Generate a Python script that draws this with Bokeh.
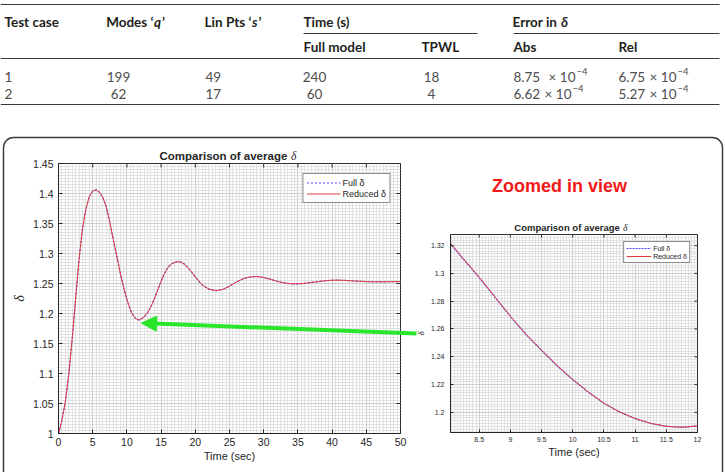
import numpy as np
from bokeh.plotting import figure
from bokeh.layouts import column, row
from bokeh.models import (Range1d, LinearAxis, FixedTicker, Grid, BoxAnnotation, Arrow,
                          NormalHead, Label, Legend, LegendItem)
from bokeh.embed import file_html
from bokeh.resources import INLINE

# ---------------- table contents ----------------
test_case = ["1", "2"]
modes_q = [199, 62]
lin_pts = [49, 17]
time_full = [240, 60]
time_tpwl = [18, 4]
err_abs = [8.75e-4, 6.62e-4]
err_rel = [6.75e-4, 5.27e-4]

# ---------------- average delta over time ----------------
t_sec = [0, 0.5, 1, 1.5, 2, 2.5, 3, 3.5, 4, 4.5, 5, 5.5, 6, 6.5, 7, 7.5, 8,
         8.25, 8.5, 8.75, 9, 9.25, 9.5, 9.75, 10, 10.25, 10.5, 10.75, 11, 11.25, 11.5, 11.75, 12,
         12.5, 13, 13.5, 14, 14.5, 15, 15.5, 16, 16.5, 17, 17.5, 18, 18.5, 19, 19.5, 20,
         21, 22, 23, 24, 25, 26, 27, 28, 29, 30, 31, 32, 33, 34, 35, 36, 37, 38, 39, 40,
         41, 42, 43, 44, 45, 46, 47, 48, 49, 50]
full_delta = [1.000, 1.022, 1.052, 1.098, 1.157, 1.224, 1.290, 1.341, 1.374, 1.395, 1.404, 1.406,
              1.402, 1.393, 1.377, 1.352, 1.3235,
              1.310, 1.297, 1.283, 1.269, 1.256, 1.2445, 1.2335, 1.2235, 1.2145, 1.2065, 1.2002,
              1.1955, 1.1920, 1.1899, 1.1892, 1.1902,
              1.1940, 1.2010, 1.2110, 1.2240, 1.2390, 1.2540, 1.2670, 1.2770, 1.2825, 1.2855,
              1.2865, 1.2852, 1.2815, 1.2755, 1.2685, 1.2610,
              1.2475, 1.2405, 1.2380, 1.2400, 1.2455, 1.2525, 1.2580, 1.2610, 1.2617, 1.2600,
              1.2570, 1.2535, 1.2508, 1.2495, 1.2494, 1.2503, 1.2518, 1.2533, 1.2547, 1.2555,
              1.2556, 1.2551, 1.2544, 1.2537, 1.2531, 1.2528, 1.2527, 1.2529, 1.2531, 1.2533]
reduced_delta = [1.000, 1.022, 1.053, 1.098, 1.158, 1.224, 1.290, 1.341, 1.374, 1.395, 1.404, 1.406,
                 1.402, 1.393, 1.377, 1.352, 1.3238,
                 1.3103, 1.2973, 1.2833, 1.2692, 1.2562, 1.2447, 1.2337, 1.2236, 1.2146, 1.2066, 1.2003,
                 1.1956, 1.1921, 1.1900, 1.1893, 1.1903,
                 1.1941, 1.2011, 1.2111, 1.2241, 1.2390, 1.2540, 1.2669, 1.2769, 1.2824, 1.2854,
                 1.2864, 1.2851, 1.2814, 1.2755, 1.2685, 1.2611,
                 1.2476, 1.2406, 1.2381, 1.2401, 1.2455, 1.2524, 1.2579, 1.2609, 1.2616, 1.2600,
                 1.2570, 1.2536, 1.2509, 1.2496, 1.2494, 1.2503, 1.2518, 1.2532, 1.2546, 1.2554,
                 1.2555, 1.2551, 1.2544, 1.2537, 1.2532, 1.2528, 1.2528, 1.2529, 1.2531, 1.2533]

# tick labels
main_x_labels = ["0", "5", "10", "15", "20", "25", "30", "35", "40", "45", "50"]
main_y_labels = ["1", "1.05", "1.1", "1.15", "1.2", "1.25", "1.3", "1.35", "1.4", "1.45"]
zoom_x_labels = ["8.5", "9", "9.5", "10", "10.5", "11", "11.5", "12"]
zoom_y_labels = ["1.2", "1.22", "1.24", "1.26", "1.28", "1.3", "1.32"]

# ---------------- page geometry ----------------
W, H = 725, 472
TOP_H = 130                 # height taken by the table above the plots
LEFT_W = 412
PANEL_H = H - TOP_H
RIGHT_W = W - LEFT_W

# plot frames in page pixels: (x0, x1, y_top, y_bottom)
L_FR = (58, 400, 163, 433)
R_FR = (446, 697, 234, 432)
L_XR, L_YR = (0, 50), (1.0, 1.45)
R_XR, R_YR = (8.04, 12.0), (1.1855, 1.328)

AX = "#262626"
MFONT = "Liberation Sans"
GREEN = "#2ae62a"
BOX = "#3c3c3c"
GRID_MAJOR = "#c9c9c9"
GRID_MINOR = "#dcdcdc"


def panel(fr, xr, yr, x_off, width):
    x0, x1, yt, yb = fr
    p = figure(width=width, height=PANEL_H, x_range=Range1d(*xr), y_range=Range1d(*yr),
               x_axis_type=None, y_axis_type=None, output_backend="svg", toolbar_location=None,
               min_border_left=x0 - x_off, min_border_right=x_off + width - x1,
               min_border_top=yt - TOP_H, min_border_bottom=H - yb)
    try:
        p.frame_align = False
    except AttributeError:
        pass
    p.outline_line_color = AX
    p.outline_line_width = 1
    p.background_fill_color = "white"
    p.border_fill_color = "white"
    return p


def matlab_axes(p, fr, xr, yr, xlabels, ylabels, xminor, yminor, tick_px, xlab_px, ylab_px,
                tick_len, x_standoff, y_standoff, xlab_standoff, ylab_standoff):
    xt = [float(s) for s in xlabels]
    yt = [float(s) for s in ylabels]
    xtick = FixedTicker(ticks=xt, minor_ticks=xminor)
    ytick = FixedTicker(ticks=yt, minor_ticks=yminor)

    def base(ax):
        ax.major_tick_in = tick_len
        ax.major_tick_out = 0
        ax.minor_tick_in = 0
        ax.minor_tick_out = 0
        ax.axis_line_color = AX
        ax.axis_line_width = 1
        ax.major_tick_line_color = AX
        ax.major_label_text_font = MFONT
        ax.major_label_text_color = AX
        ax.major_label_text_font_size = f"{tick_px}px"

    bx = LinearAxis(ticker=xtick, major_label_overrides={v: s for v, s in zip(xt, xlabels)},
                    axis_label="Time (sec)")
    base(bx)
    bx.major_label_standoff = x_standoff
    bx.axis_label_text_font = MFONT
    bx.axis_label_text_font_style = "normal"
    bx.axis_label_text_font_size = f"{xlab_px}px"
    bx.axis_label_text_color = AX
    bx.axis_label_standoff = xlab_standoff
    p.add_layout(bx, "below")

    lyx = LinearAxis(ticker=ytick, major_label_overrides={v: s for v, s in zip(yt, ylabels)},
                     axis_label="δ")
    base(lyx)
    lyx.major_label_standoff = y_standoff
    lyx.axis_label_text_font = "Liberation Serif"
    lyx.axis_label_text_font_style = "italic"
    lyx.axis_label_text_font_size = f"{ylab_px}px"
    lyx.axis_label_text_color = AX
    lyx.axis_label_standoff = ylab_standoff
    p.add_layout(lyx, "left")

    # inward box ticks along the top and right edges
    dx = (xr[1] - xr[0]) / (fr[1] - fr[0]) * tick_len
    dy = (yr[1] - yr[0]) / (fr[3] - fr[2]) * tick_len
    p.segment(x0=xt, y0=[yr[1]] * len(xt), x1=xt, y1=[yr[1] - dy] * len(xt),
              line_color=AX, line_width=1)
    p.segment(x0=[xr[1]] * len(yt), y0=yt, x1=[xr[1] - dx] * len(yt), y1=yt,
              line_color=AX, line_width=1)

    for dim, tk in ((0, xtick), (1, ytick)):
        p.add_layout(Grid(dimension=dim, ticker=tk, grid_line_color=GRID_MAJOR, grid_line_width=0.8,
                          minor_grid_line_color=GRID_MINOR, minor_grid_line_width=0.8))


def curves(p, dash):
    r_full = p.line(t_sec, full_delta, line_color="#4b4bff", line_width=1.2, line_dash=dash)
    r_red = p.line(t_sec, reduced_delta, line_color="#e23b3b", line_width=1)
    return r_full, r_red


def legend(p, r_full, r_red, font_px, glyph_w, row_h, pad, margin):
    lg = Legend(items=[LegendItem(label="Full δ", renderers=[r_full]),
                       LegendItem(label="Reduced δ", renderers=[r_red])],
                location="top_right", margin=margin, padding=pad, spacing=0,
                glyph_width=glyph_w, glyph_height=row_h, label_height=row_h, label_standoff=2,
                label_text_font=MFONT, label_text_font_size=f"{font_px}px", label_text_color=AX,
                border_line_color="#1a1a1a", border_line_width=0.8,
                background_fill_color="white", background_fill_alpha=1.0)
    p.add_layout(lg)


# ---------------- main response panel ----------------
left = panel(L_FR, L_XR, L_YR, 0, LEFT_W)
matlab_axes(left, L_FR, L_XR, L_YR, main_x_labels, main_y_labels,
            list(np.round(np.arange(0, 50.001, 0.5), 3)),
            list(np.round(np.arange(1.0, 1.4501, 0.005), 4)),
            tick_px=10.5, xlab_px=11, ylab_px=14, tick_len=4,
            x_standoff=4, y_standoff=5, xlab_standoff=1, ylab_standoff=3)
lf, lr = curves(left, "2 2")
legend(left, lf, lr, 9, 34, 11, 3, 10)

# ---------------- zoomed panel ----------------
right = panel(R_FR, R_XR, R_YR, LEFT_W, RIGHT_W)
matlab_axes(right, R_FR, R_XR, R_YR, zoom_x_labels, zoom_y_labels,
            list(np.round(np.arange(8.0, 12.001, 0.05), 3)),
            list(np.round(np.arange(1.18, 1.3301, 0.002), 4)),
            tick_px=7, xlab_px=11, ylab_px=9, tick_len=3,
            x_standoff=4, y_standoff=6, xlab_standoff=1, ylab_standoff=2)
rf, rr = curves(right, "2 1")
legend(right, rf, rr, 7, 25, 8, 2, 7)

# ---------------- page overlay: table, titles, frame box, arrow ----------------
ov = figure(width=W, height=H, x_range=Range1d(0, W), y_range=Range1d(H, 0),
            x_axis_type=None, y_axis_type=None, output_backend="svg", toolbar_location=None,
            min_border=0, outline_line_color=None, margin=(-H, 0, 0, 0))
ov.background_fill_alpha = 0
ov.border_fill_alpha = 0
ov.grid.visible = False


def label(x, y, text, font, size, color, style="normal", align="left", baseline="middle"):
    ov.add_layout(Label(x=x, y=y, text=text, text_align=align, text_baseline=baseline,
                        text_font=font, text_font_style=style, text_font_size=size,
                        text_color=color))


# plot titles (bold text followed by an italic delta)
for right_px, y_px, size in ((290, 155, "11.5px"), (622, 227, "9.5px")):
    label(right_px, y_px, "Comparison of average ", MFONT, size, AX, "bold", "right")
    label(right_px + 0.5, y_px, "δ", "Liberation Serif", size, AX, "italic")

label(559, 185, "Zoomed in view", MFONT, "18px", "#f01a1a", "bold", "center")

box = BoxAnnotation(left=3, right=722, top=137, bottom=H + 40, fill_color=None,
                    line_color=BOX, line_alpha=1.0, line_width=1.5)
try:
    box.border_radius = 10
except AttributeError:
    pass
ov.add_layout(box)

ov.add_layout(Arrow(x_start=416, y_start=333, x_end=141, y_end=322.6,
                    line_color=GREEN, line_width=4,
                    end=NormalHead(size=15, fill_color=GREEN, line_color=GREEN, line_width=1)))

# table
TFONT = "Lato"
HEAD_C = "#231f20"
BODY_C = "#4d4d4d"
HEAD_PX = "13.5px"
BODY_PX = "13.5px"
SUP_PX = "9.5px"
col_x = [4, 107, 205, 303, 421, 513, 618]
RULE_X1 = 719
HDR1_Y, HDR2_Y = 21, 46
ROW_Y = [76, 93]

rule_x0 = [0, col_x[3], col_x[5], 0, 0]
rule_x1 = [RULE_X1, 477, RULE_X1, RULE_X1, RULE_X1]
rule_y = [4, 33, 33, 58, 104]
ov.segment(x0=rule_x0, y0=rule_y, x1=rule_x1, y1=rule_y, line_color="#3a3a3a", line_width=1)


def head(x, y, text, style="bold", align="left"):
    label(x, y, text, TFONT, HEAD_PX, HEAD_C, style, align)


def head_italic(anchor, y, prefix, ital, suffix, ital_w):
    # prefix ends at the anchor; the italic letter starts right after it
    head(anchor, y, prefix, align="right")
    head(anchor + 0.5, y, ital, style="bold italic")
    if suffix:
        head(anchor + 0.5 + ital_w, y, suffix)


head(col_x[0], HDR1_Y, "Test case")
head_italic(col_x[1] + 46, HDR1_Y, "Modes ‘", "q", "’", 8)
head_italic(col_x[2] + 46, HDR1_Y, "Lin Pts ‘", "s", "’", 6.5)
head(col_x[3], HDR1_Y, "Time (s)")
head_italic(col_x[5] + 47, HDR1_Y, "Error in ", "δ", "", 8)
for x, txt in zip(col_x[3:], ["Full model", "TPWL", "Abs", "Rel"]):
    head(x, HDR2_Y, txt)


def body(x, y, text, align="left"):
    label(x, y, text, TFONT, BODY_PX, BODY_C, "normal", align)


def sci(x_left, y, v, base_w):
    # mantissa from the column edge, "× 10" ending at the anchor, exponent raised after it
    exp = int(np.floor(np.log10(abs(v))))
    mant = v / 10.0 ** exp
    anchor = x_left + base_w
    body(x_left, y, f"{mant:.2f}")
    body(anchor, y, "× 10", align="right")
    label(anchor + 1, y - 5, f"−{abs(exp)}" if exp < 0 else str(exp), TFONT, SUP_PX, BODY_C)


for i, y in enumerate(ROW_Y):
    body(col_x[0], y, test_case[i])
    body(118, y, str(modes_q[i]), align="center")
    body(col_x[2], y, str(lin_pts[i]))
    body(314, y, str(time_full[i]), align="center")
    body(431, y, str(time_tpwl[i]), align="center")
    sci(col_x[5], y, err_abs[i], 62 if i == 0 else 58)
    sci(col_x[6], y, err_rel[i], 58)

page = column(row(left, right, spacing=0, margin=(TOP_H, 0, 0, 0)), ov, spacing=0)
open("out.html", "w").write(file_html(page, INLINE))
